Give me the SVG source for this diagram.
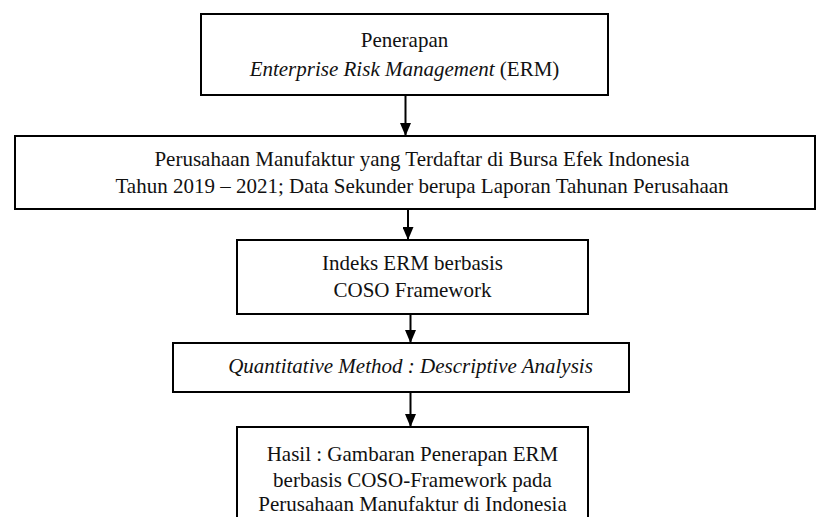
<svg xmlns="http://www.w3.org/2000/svg" width="817" height="517" viewBox="0 0 817 517">
<style>
.box{fill:#fff;stroke:#000;stroke-width:2}
.t{font-family:"Liberation Serif","Times New Roman",serif;font-size:21px;fill:#111;text-anchor:middle}
.i{font-style:italic}
.c{stroke:#000;stroke-width:2;fill:none;marker-end:url(#ah)}
</style>
<defs>
<marker id="ah" markerWidth="13" markerHeight="11" refX="12" refY="5.5" orient="auto" markerUnits="userSpaceOnUse" viewBox="0 0 13 11">
<path d="M0,0 L13,5.5 L0,11 Z" fill="#000"/>
</marker>
</defs>
<rect width="817" height="517" fill="#fff"/>
<g id="connectors">
<path class="c" d="M405.5,95 V135"/>
<path class="c" d="M408,209 V239"/>
<path class="c" d="M410.5,314 V342"/>
<path class="c" d="M410.5,392 V426"/>
</g>
<g id="n1">
<rect class="box" x="201" y="14" width="407" height="81"/>
<text class="t" x="404.5" y="47">Penerapan</text>
<text class="t" x="404.5" y="76"><tspan class="i">Enterprise Risk Management</tspan> (ERM)</text>
</g>
<g id="n2">
<rect class="box" x="15" y="136" width="800" height="73"/>
<text class="t" x="422" y="166">Perusahaan Manufaktur yang Terdaftar di Bursa Efek Indonesia</text>
<text class="t" x="422" y="193">Tahun 2019 – 2021; Data Sekunder berupa Laporan Tahunan Perusahaan</text>
</g>
<g id="n3">
<rect class="box" x="237" y="240" width="351" height="74"/>
<text class="t" x="412.5" y="270">Indeks ERM berbasis</text>
<text class="t" x="412.5" y="297">COSO Framework</text>
</g>
<g id="n4">
<rect class="box" x="173" y="343" width="456" height="49"/>
<text class="t i" x="410.5" y="373">Quantitative Method : Descriptive Analysis</text>
</g>
<g id="n5">
<rect class="box" x="237" y="427" width="351" height="100"/>
<text class="t" x="412.5" y="461">Hasil : Gambaran Penerapan ERM</text>
<text class="t" x="412.5" y="486.5">berbasis COSO-Framework pada</text>
<text class="t" x="412.5" y="511">Perusahaan Manufaktur di Indonesia</text>
</g>
</svg>
